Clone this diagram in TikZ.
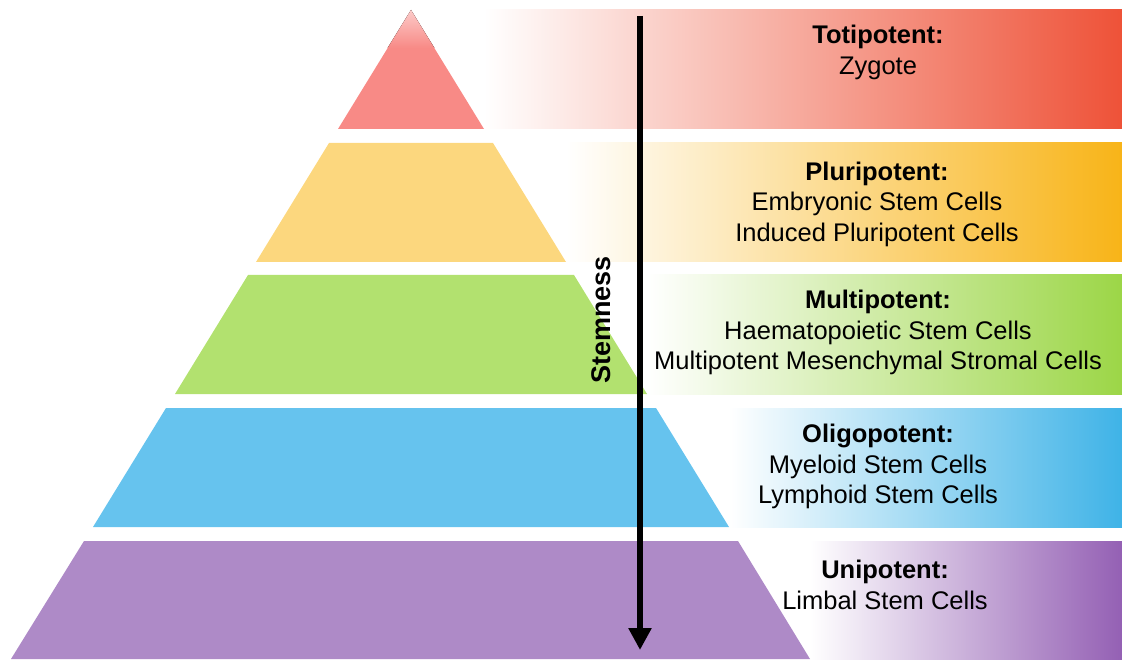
\documentclass[tikz,border=0pt]{standalone}
\usepackage{fontspec}
\setmainfont{Liberation Sans}
\usetikzlibrary{arrows.meta}
\definecolor{triR}{HTML}{F88A86}
\definecolor{bandR}{HTML}{EE5238}
\definecolor{triY}{HTML}{FCD77E}
\definecolor{bandY}{HTML}{F8B418}
\definecolor{triG}{HTML}{B2E16F}
\definecolor{bandG}{HTML}{9CD647}
\definecolor{triB}{HTML}{66C3EE}
\definecolor{bandB}{HTML}{3FB3E7}
\definecolor{triP}{HTML}{AE8AC7}
\definecolor{bandP}{HTML}{9460B4}
\tikzset{
  bandfill/.style={left color=white, middle color=#1!62!white, right color=#1},
  layertext/.style={anchor=north, align=center, inner sep=0pt, text=black,
    font=\fontsize{25.5}{30.5}\selectfont},
  stemarrow/.style={line width=6pt, -{Triangle[width=22pt,length=22pt]}},
}
\begin{document}
\begin{tikzpicture}[x=1pt,y=-1pt]
\useasboundingbox (0,0) rectangle (1122,660);
% gradient bands
\fill[bandfill=bandR] (484,10) rectangle (1122,129);
\fill[bandfill=bandY] (566,143) rectangle (1122,262);
\fill[bandfill=bandG] (647,275) rectangle (1122,394);
\fill[bandfill=bandB] (729,408) rectangle (1122,527);
\fill[bandfill=bandP] (810,541) rectangle (1122,659);
% pyramid layers
\fill[triR] (411,10) -- (484,129) -- (338,129) -- cycle;
\fill[top color=triR!45!white, bottom color=triR] (411,10) -- (434.4,48) -- (387.6,48) -- cycle;
\fill[triY] (329,143) -- (493,143) -- (566,262) -- (256,262) -- cycle;
\fill[triG] (248,275) -- (574,275) -- (647,394) -- (175,394) -- cycle;
\fill[triB] (166,408) -- (656,408) -- (729,527) -- (93,527) -- cycle;
\fill[triP] (84,541) -- (738,541) -- (810,659) -- (11,659) -- cycle;
% texts
\node[layertext] (toti) at (878,25) {\textbf{Totipotent:}\\Zygote};
\node[layertext] (pluri) at (877,161.5) {\textbf{Pluripotent:}\\Embryonic Stem Cells\\Induced Pluripotent Cells};
\node[layertext] (multi) at (878,290) {\textbf{Multipotent:}\\Haematopoietic Stem Cells\\Multipotent Mesenchymal Stromal Cells};
\node[layertext] (oligo) at (878,424) {\textbf{Oligopotent:}\\Myeloid Stem Cells\\Lymphoid Stem Cells};
\node[layertext] (uni) at (885,560) {\textbf{Unipotent:}\\Limbal Stem Cells};
% stemness arrow
\coordinate (arrtop) at (640,16);
\coordinate (arrbot) at (640,650);
\draw[stemarrow] (arrtop) -- (arrbot);
\node[rotate=90, inner sep=0pt, font=\fontsize{27}{30}\selectfont\bfseries] (stem) at (601,320) {Stemness};
\end{tikzpicture}
\end{document}
